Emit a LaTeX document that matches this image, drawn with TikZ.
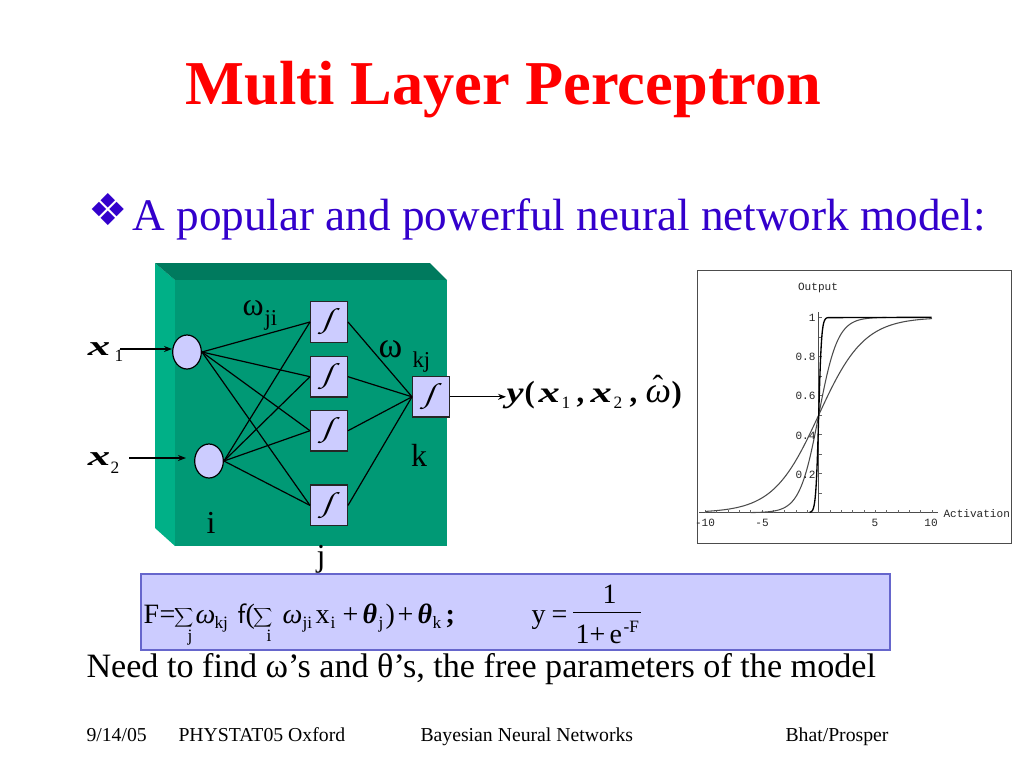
\documentclass[tikz,border=0pt]{standalone}
\usepackage{fontspec}
\setmainfont{Liberation Serif}
\setmonofont{Liberation Mono}
\newfontfamily\dingfont{DejaVu Sans}
\usetikzlibrary{shapes.geometric,arrows.meta}

\definecolor{slidered}{RGB}{255,0,0}
\definecolor{slideblue}{RGB}{51,0,204}
\definecolor{nodefill}{RGB}{204,204,255}
\definecolor{boxedge}{RGB}{102,102,204}
\definecolor{frontgreen}{RGB}{0,153,117}
\definecolor{sidegreen}{RGB}{0,176,135}
\definecolor{topgreen}{RGB}{0,122,94}

\tikzset{
  every picture/.style={line width=0.75pt},
  txt/.style={anchor=base west,inner sep=0pt,font=\fontsize{21}{26}\selectfont},
  sub/.style={anchor=base west,inner sep=0pt,font=\fontsize{13}{15}\selectfont},
  big/.style={anchor=base,inner sep=0pt,font=\fontsize{24}{28}\selectfont},
  foot/.style={anchor=base west,inner sep=0pt,font=\fontsize{14.8}{17}\selectfont},
  plotlab/.style={inner sep=0pt,font=\ttfamily\fontsize{8.3}{10}\selectfont,text=black!85},
  inputunit/.style={ellipse,draw=black,fill=nodefill,line width=0.9pt,minimum width=21.5pt,minimum height=25.5pt,inner sep=0pt},
  sigunit/.style={rectangle,draw=black!85,fill=nodefill,line width=1pt,minimum width=27.5pt,minimum height=30.5pt,inner sep=0pt},
  sigmark/.style={inner sep=0pt,xslant=0.4,xscale=1.2,font=\fontsize{20}{20}\selectfont},
  link/.style={draw=black,line width=0.9pt},
  feed/.style={draw=black,line width=0.9pt,-{Stealth[length=6pt,width=4.5pt]}},
  curve/.style={draw=black!70,line width=0.8pt,smooth},
  sumsign/.style={inner sep=0pt,font=\fontsize{10}{12}\selectfont},
  inx/.style={anchor=base west,inner sep=0pt,xscale=1.6,font=\bfseries\itshape\fontsize{21}{24}\selectfont},
  outx/.style={anchor=base west,inner sep=0pt,xscale=1.45,font=\bfseries\itshape\fontsize{22}{26}\selectfont},
  outp/.style={anchor=base west,inner sep=0pt,font=\bfseries\fontsize{23}{26}\selectfont}
}

\begin{document}
\begin{tikzpicture}[x=0.75pt,y=0.75pt,yscale=-1,xscale=1]
\useasboundingbox (0,0) rectangle (1024,768);
\fill[white] (0,0) rectangle (1024,768);

% Title
\node (title) [anchor=base,inner sep=0pt,text=slidered,font=\bfseries\fontsize{46.8}{50}\selectfont] at (503.5,104) {Multi Layer Perceptron};
\node (bullet) [anchor=base west,inner sep=0pt,text=slideblue,font=\dingfont\fontsize{33}{34}\selectfont] at (88,225) {❖};
\node (intro) [anchor=base west,inner sep=0pt,text=slideblue,font=\fontsize{33.9}{38}\selectfont] at (132,230) {A popular and powerful neural network model:};

% Block
\fill[sidegreen] (155,263) -- (175,280) -- (175,546) -- (155,528) -- cycle;
\fill[topgreen] (155,263) -- (430,263) -- (447,280) -- (175,280) -- cycle;
\fill[frontgreen] (175,280) rectangle (447,546);

% Units
\node (in1) [inputunit] at (187,352) {};
\node (in2) [inputunit] at (209,461) {};
\node (hid1) [sigunit] at (329,322) {};
\node (hid2) [sigunit] at (329,376.7) {};
\node (hid3) [sigunit] at (329,430.7) {};
\node (hid4) [sigunit] at (329,505.4) {};
\node (out) [sigunit] at (431,396.8) {};
\foreach \h in {hid1,hid2,hid3,hid4,out}
  \node (mark\h) [sigmark] at (\h) {∫};

% Connections
\foreach \i in {in1,in2}
  \foreach \h in {hid1,hid2,hid3,hid4}
    \draw[link] (\i.east) -- (\h.west);
\foreach \h in {hid1,hid2,hid3,hid4}
  \draw[link] (\h.east) -- (out.west);

\coordinate (start1) at (120,349);
\coordinate (start2) at (129,458);
\coordinate (end1) at (172,349);
\coordinate (end2) at (186,458);
\coordinate (outend) at (506,396.8);
\draw[feed] (start1) -- (end1);
\draw[feed] (start2) -- (end2);
\draw[feed] (out.east) -- (outend);

% Network labels
\node (wji) [anchor=base west,inner sep=0pt,font=\fontsize{24}{26}\selectfont] at (242,315) {ω};
\node (wjisub) [anchor=base west,inner sep=0pt,font=\fontsize{17}{18}\selectfont] at (264,325) {ji};
\node (wkj) [anchor=base west,inner sep=0pt,font=\fontsize{27}{28}\selectfont] at (378,357) {ω};
\node (wkjsub) [anchor=base west,inner sep=0pt,font=\fontsize{17}{18}\selectfont] at (412,367) {kj};
\node (labi) [big] at (211,533) {i};
\node (labj) [big] at (321,566) {j};
\node (labk) [big] at (419,466) {k};

% Inputs
\node (x1) [inx] at (87,355) {x};
\node (x1sub) [sub] at (114,361) {1};
\node (x2) [inx] at (87,465) {x};
\node (x2sub) [sub] at (110,473) {2};

% Output
\node (yy) [outx,xscale=0.9] at (506,402) {y};
\node (ylp) [outp] at (524,402) {(};
\node (yx1) [outx] at (538,402) {x};
\node (yx1sub) [sub] at (561,408) {1};
\node (yc1) [outp] at (576,402) {,};
\node (yx2) [outx] at (590,402) {x};
\node (yx2sub) [sub] at (613,408) {2};
\node (yc2) [outp] at (629,402) {,};
\node (yw) [anchor=base west,inner sep=0pt,font=\itshape\fontsize{27}{28}\selectfont] at (645,402) {ω};
\node (yhat) [anchor=base,inner sep=0pt,font=\fontsize{24}{26}\selectfont] at (658,397) {ˆ};
\node (yrp) [outp] at (671,402) {)};

% Activation plot
\draw[draw=black!70,fill=white,line width=0.7pt] (697,270) rectangle (1011,543);
\draw[black!70,line width=0.9pt] (699,512.7) -- (938,512.7);
\draw[black!70,line width=0.9pt] (818.7,312) -- (818.7,512.7);
\foreach \t in {-10,-9,...,10}
  \draw[black!60,line width=0.4pt] ({818.7+11.33*\t},512.7) -- ({818.7+11.33*\t},509.7);
\foreach \t in {1,...,10}
  \draw[black!60,line width=0.4pt] (818.7,{512.7-19.54*\t}) -- (821.7,{512.7-19.54*\t});
\draw[curve] plot[domain=-10:10,samples=60] ({818.7+11.33*\x},{512.7-195.4/(1+exp(-0.5*\x))});
\draw[curve] plot[domain=-6:6,samples=60] ({818.7+11.33*\x},{512.7-195.4/(1+exp(-1.2*\x))});
\draw[curve,draw=black,line width=1pt] plot[domain=-0.8:0.8,samples=40] ({818.7+11.33*\x},{512.7-195.4/(1+exp(-8*\x))}) -- (931.7,317.3);

\node (ylabel) [plotlab] at (818,288) {Output};
\node (xlabel) [plotlab,anchor=west] at (943,513.5) {Activation};
\node (ytick1) [plotlab,anchor=east] at (816,318) {1};
\node (ytick8) [plotlab,anchor=east] at (816,357) {0.8};
\node (ytick6) [plotlab,anchor=east] at (816,396) {0.6};
\node (ytick4) [plotlab,anchor=east] at (816,436) {0.4};
\node (ytick2) [plotlab,anchor=east] at (816,475) {0.2};
\node (xtickm10) [plotlab] at (705,523) {-10};
\node (xtickm5) [plotlab] at (762,523) {-5};
\node (xtick5) [plotlab] at (875,523) {5};
\node (xtick10) [plotlab] at (931,523) {10};

% Formula
\draw[draw=boxedge,fill=nodefill,line width=0.8pt] (141,574) rectangle (890,650);
\node (fF) [txt] at (143,623) {F};
\node (fe1) [txt] at (159,623) {=};
\node (fs1) [sumsign] at (184,618) {$\displaystyle\sum$};
\node (fj1) [sub] at (187,641) {j};
\node (fw1) [txt] at (195,623) {\textit{ω}};
\node (fkj) [sub] at (214,628) {kj};
\node (ff) [txt,font=\sffamily\fontsize{21}{26}\selectfont] at (237,623) {f};
\node (flp) [txt] at (245,623) {(};
\node (fs2) [sumsign] at (263,618) {$\displaystyle\sum$};
\node (fi1) [sub] at (266,641) {i};
\node (fw2) [txt] at (282,623) {\textit{ω}};
\node (fji) [sub] at (302,628) {ji};
\node (fx) [txt] at (315,623) {x};
\node (fxi) [sub] at (330,628) {i};
\node (fp1) [txt] at (342,623) {+};
\node (ft1) [txt] at (362,623) {\textbf{\textit{θ}}};
\node (fj2) [sub] at (378,628) {j};
\node (frp) [txt] at (385,623) {)};
\node (fp2) [txt] at (397,623) {+};
\node (ft2) [txt] at (417,623) {\textbf{\textit{θ}}};
\node (fk) [sub] at (432,628) {k};
\node (fsc) [txt,font=\bfseries\fontsize{21}{26}\selectfont] at (445,623) {;};
\node (fy) [txt] at (531,623) {y};
\node (fe2) [txt] at (551,623) {=};
\draw[black,line width=0.9pt] (573,612.5) -- (641,612.5);
\node (fn) [txt] at (602,603) {1};
\node (fd1) [txt] at (575,643) {1};
\node (fdp) [txt] at (589,643) {+};
\node (fde) [txt] at (609,643) {e};
\node (fdf) [sub] at (623,632) {-F};

% Bottom lines
\node (need) [anchor=base west,inner sep=0pt,font=\fontsize{25.6}{28}\selectfont] at (86,677) {Need to find ω’s and θ’s, the free parameters of the model};
\node (foot1) [foot] at (86,741) {9/14/05};
\node (foot2) [foot] at (178,741) {PHYSTAT05 Oxford};
\node (foot3) [foot] at (420,741) {Bayesian Neural Networks};
\node (foot4) [foot] at (785,741) {Bhat/Prosper};
\end{tikzpicture}
\end{document}
